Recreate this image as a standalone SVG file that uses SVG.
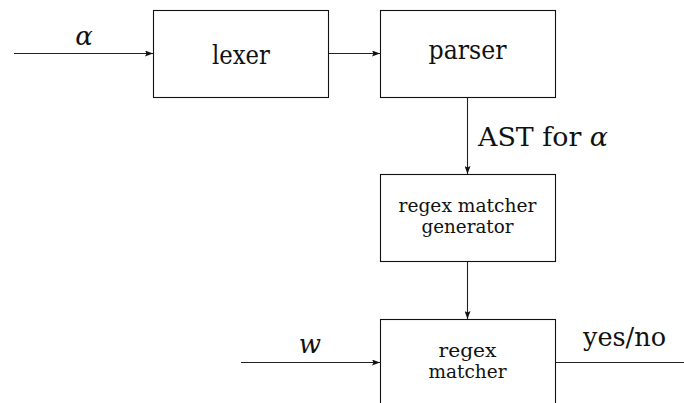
<svg xmlns="http://www.w3.org/2000/svg" width="684" height="403" viewBox="0 0 684 403" font-family="DejaVu Serif, Liberation Serif, Noto Serif, serif">
  <style>
    .box { fill: #ffffff; stroke: #111111; stroke-width: 1.1; }
    .wire { fill: none; stroke: #222222; stroke-width: 1.1; }
    text { fill: #111111; text-anchor: middle; }
    .big { font-size: 26px; }
    .small { font-size: 18px; }
    .math { font-style: italic; }
  </style>
  <defs>
    <marker id="arrow" viewBox="0 0 8 6" refX="8" refY="3" markerWidth="8" markerHeight="6" markerUnits="userSpaceOnUse" orient="auto">
      <path d="M0,0 L8,3 L0,6 L1.5,3 Z" fill="#111111"/>
    </marker>
  </defs>

  <!-- connectors -->
  <g id="connectors">
    <line class="wire" x1="14" y1="53.5" x2="153" y2="53.5" marker-end="url(#arrow)"/>
    <line class="wire" x1="328" y1="53.5" x2="380" y2="53.5" marker-end="url(#arrow)"/>
    <line class="wire" x1="467.5" y1="97" x2="467.5" y2="174" marker-end="url(#arrow)"/>
    <line class="wire" x1="467.5" y1="261" x2="467.5" y2="319" marker-end="url(#arrow)"/>
    <line class="wire" x1="241" y1="362.5" x2="380" y2="362.5" marker-end="url(#arrow)"/>
    <line class="wire" x1="555" y1="362.5" x2="684" y2="362.5"/>
    <text class="big math" x="84" y="45">α</text>
    <text class="big" x="543" y="146" textLength="130" lengthAdjust="spacingAndGlyphs">AST for <tspan class="math">α</tspan></text>
    <text class="big math" x="310" y="353">w</text>
    <text class="big" x="624.5" y="346" textLength="83" lengthAdjust="spacingAndGlyphs">yes/no</text>
  </g>

  <g id="lexer">
    <rect class="box" x="153.5" y="10.5" width="175" height="87"/>
    <text class="big" x="241" y="64" textLength="58" lengthAdjust="spacingAndGlyphs">lexer</text>
  </g>

  <g id="parser">
    <rect class="box" x="380.5" y="10.5" width="175" height="87"/>
    <text class="big" x="467.5" y="59" textLength="78" lengthAdjust="spacingAndGlyphs">parser</text>
  </g>

  <g id="generator">
    <rect class="box" x="380.5" y="174.5" width="175" height="87"/>
    <text class="small" x="467.5" y="212" textLength="138" lengthAdjust="spacingAndGlyphs">regex matcher</text>
    <text class="small" x="467.5" y="233" textLength="92" lengthAdjust="spacingAndGlyphs">generator</text>
  </g>

  <g id="matcher">
    <rect class="box" x="380.5" y="319.5" width="175" height="100"/>
    <text class="small" x="467.5" y="357" textLength="58" lengthAdjust="spacingAndGlyphs">regex</text>
    <text class="small" x="467.5" y="378" textLength="78" lengthAdjust="spacingAndGlyphs">matcher</text>
  </g>
</svg>
